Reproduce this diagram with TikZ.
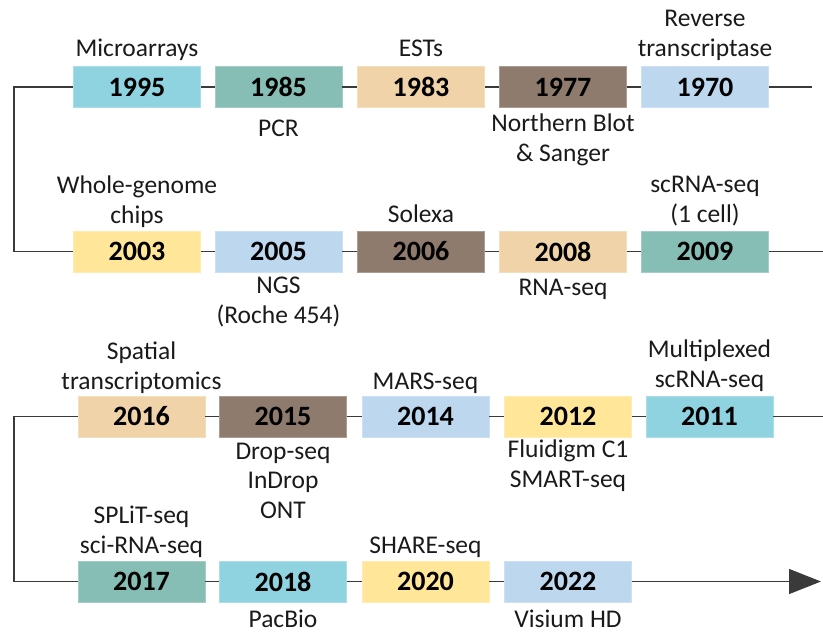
\documentclass[tikz,border=0pt]{standalone}
\usepackage{fontspec}
\setmainfont{Carlito}
\usetikzlibrary{arrows.meta}
\definecolor{cyanB}{HTML}{8FD3E0}
\definecolor{tealB}{HTML}{86BDB4}
\definecolor{tanB}{HTML}{F0D3A8}
\definecolor{brownB}{HTML}{8F7B6D}
\definecolor{blueB}{HTML}{BDD7EE}
\definecolor{yellowB}{HTML}{FFE699}
\definecolor{lineC}{HTML}{3A3A3A}
\definecolor{txtC}{HTML}{1A1A1A}
\tikzset{
  yearbox/.style={fill=#1, draw=#1!75!white, line width=0.8pt,
    minimum width=127pt, minimum height=41pt, inner sep=0pt,
    font=\fontsize{28}{30}\selectfont\bfseries},
  lbl/.style={inner sep=0pt, align=center, anchor=base, text=txtC,
    font=\fontsize{25.5}{29.5}\selectfont},
  tl/.style={draw=lineC, line width=1.4pt},
}
\begin{document}
\begin{tikzpicture}[x=1pt, y=-1pt]
\useasboundingbox (0,0) rectangle (823,635);

% row 1
\node[yearbox=cyanB]  (y1995) at (137,87) {1995};
\node[yearbox=tealB]  (y1985) at (278.5,87) {1985};
\node[yearbox=tanB]   (y1983) at (421,87) {1983};
\node[yearbox=brownB] (y1977) at (563,87) {1977};
\node[yearbox=blueB]  (y1970) at (705,87) {1970};
% row 2
\node[yearbox=yellowB] (y2003) at (137,251.5) {2003};
\node[yearbox=blueB]   (y2005) at (278.5,251.5) {2005};
\node[yearbox=brownB]  (y2006) at (421,251.5) {2006};
\node[yearbox=tanB]    (y2008) at (563,251.5) {2008};
\node[yearbox=tealB]   (y2009) at (705,251.5) {2009};
% row 3
\node[yearbox=tanB]    (y2016) at (141.5,416.5) {2016};
\node[yearbox=brownB]  (y2015) at (283,416.5) {2015};
\node[yearbox=blueB]   (y2014) at (425.5,416.5) {2014};
\node[yearbox=yellowB] (y2012) at (568,416.5) {2012};
\node[yearbox=cyanB]   (y2011) at (709.5,416.5) {2011};
% row 4
\node[yearbox=tealB]   (y2017) at (141.5,581.5) {2017};
\node[yearbox=cyanB]   (y2018) at (283,581.5) {2018};
\node[yearbox=yellowB] (y2020) at (425.5,581.5) {2020};
\node[yearbox=blueB]   (y2022) at (568,581.5) {2022};

% turning points and free ends of the timeline
\coordinate (r1L) at (14,87);
\coordinate (r2L) at (14,251.5);
\coordinate (r1R) at (812,87);
\coordinate (r2R) at (823,251.5);
\coordinate (r3L) at (14,416.5);
\coordinate (r4L) at (14,581.5);
\coordinate (r3R) at (823,416.5);
\coordinate (r4R) at (821,581.5);

% timeline segments
\draw[tl] (y1995.west) -- (r1L) -- (r2L) -- (y2003.west);
\draw[tl] (y1995.east) -- (y1985.west);
\draw[tl] (y1985.east) -- (y1983.west);
\draw[tl] (y1983.east) -- (y1977.west);
\draw[tl] (y1977.east) -- (y1970.west);
\draw[tl] (y1970.east) -- (r1R);
\draw[tl] (y2003.east) -- (y2005.west);
\draw[tl] (y2005.east) -- (y2006.west);
\draw[tl] (y2006.east) -- (y2008.west);
\draw[tl] (y2008.east) -- (y2009.west);
\draw[tl] (y2009.east) -- (r2R);
\draw[tl] (y2016.west) -- (r3L) -- (r4L) -- (y2017.west);
\draw[tl] (y2016.east) -- (y2015.west);
\draw[tl] (y2015.east) -- (y2014.west);
\draw[tl] (y2014.east) -- (y2012.west);
\draw[tl] (y2012.east) -- (y2011.west);
\draw[tl] (y2011.east) -- (r3R);
\draw[tl] (y2017.east) -- (y2018.west);
\draw[tl] (y2018.east) -- (y2020.west);
\draw[tl] (y2020.east) -- (y2022.west);
\draw[tl, -{Triangle[length=32pt,width=25pt]}, color=lineC] (y2022.east) -- (r4R);

% labels (anchored at the baseline of their last line), row 1
\node[lbl] (lMicro) at (137,56) {Microarrays};
\node[lbl] (lPCR) at (278.5,136) {PCR};
\node[lbl] (lESTs) at (421,56) {ESTs};
\node[lbl] (lNorth) at (563,161) {Northern Blot\\\& Sanger};
\node[lbl] (lRev) at (705,56) {Reverse\\transcriptase};
% labels, row 2
\node[lbl] (lWhole) at (137,223) {Whole-genome\\chips};
\node[lbl] (lNGS) at (278.5,323) {NGS\\(Roche 454)};
\node[lbl] (lSolexa) at (421,222) {Solexa};
\node[lbl] (lRNA) at (563,295) {RNA-seq};
\node[lbl] (lsc) at (705,222) {scRNA-seq\\(1 cell)};
% labels, row 3
\node[lbl] (lSpat) at (141.5,389) {Spatial\\transcriptomics};
\node[lbl] (lDrop) at (283,518) {Drop-seq\\InDrop\\ONT};
\node[lbl] (lMARS) at (425.5,389) {MARS-seq};
\node[lbl] (lFlu) at (568,487) {Fluidigm C1\\SMART-seq};
\node[lbl] (lMulti) at (709.5,387) {Multiplexed\\scRNA-seq};
% labels, row 4
\node[lbl] (lSplit) at (141.5,553) {SPLiT-seq\\sci-RNA-seq};
\node[lbl] (lPac) at (283,627) {PacBio};
\node[lbl] (lShare) at (425.5,553) {SHARE-seq};
\node[lbl] (lVis) at (568,627) {Visium HD};
\end{tikzpicture}
\end{document}
